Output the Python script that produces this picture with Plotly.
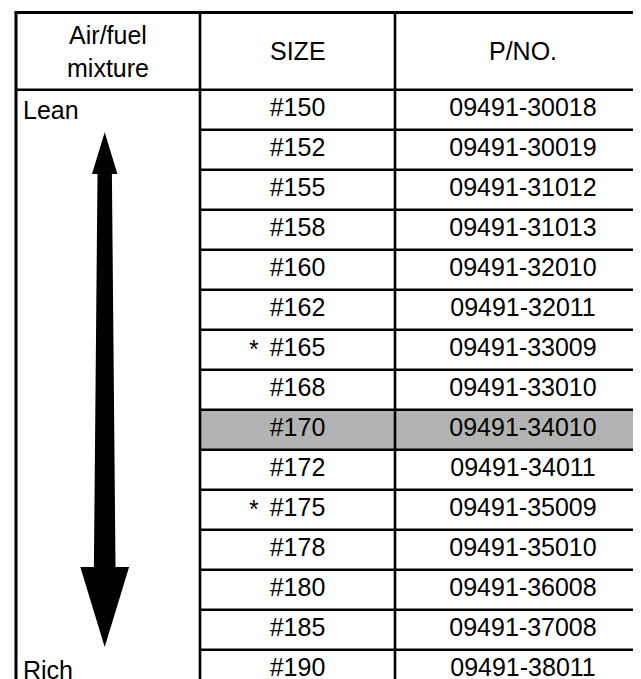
import plotly.graph_objects as go

# table content
headers = ["Air/fuel<br>mixture", "SIZE", "P/NO."]
sizes = ["#150", "#152", "#155", "#158", "#160", "#162", "#165", "#168",
         "#170", "#172", "#175", "#178", "#180", "#185", "#190"]
part_numbers = ["09491-30018", "09491-30019", "09491-31012", "09491-31013",
                "09491-32010", "09491-32011", "09491-33009", "09491-33010",
                "09491-34010", "09491-34011", "09491-35009", "09491-35010",
                "09491-36008", "09491-37008", "09491-38011"]
starred = ["#165", "#175"]
highlighted = ["#170"]
mixture_labels = {0: "Lean", len(sizes) - 1: "Rich"}

# layout of the drawing, in page pixels
W, H = 641, 679
LEFT, TOP = 8, 4.5
HEADER_H = 77.2
ROW_H = 40
COL_X = [LEFT, 192, 387, W + 10]
COL_CENTER = [100, 289.5, 515]
FONT = dict(family="Liberation Sans, Arial, Helvetica, sans-serif", size=25, color="black")
LINE_W = 2.6
GRAY = "#b3b3b3"

n = len(sizes)
body_top = TOP + HEADER_H


def row_top(i):
    return body_top + i * ROW_H


def row_mid(i):
    return row_top(i) + ROW_H / 2


fig = go.Figure()
shapes = []

# highlighted row fill
for i, s in enumerate(sizes):
    if s in highlighted:
        shapes.append(dict(type="rect", x0=COL_X[1], x1=COL_X[3], y0=row_top(i), y1=row_top(i + 1),
                           fillcolor=GRAY, line=dict(width=0), layer="below"))

line = dict(color="black", width=LINE_W)
# outer top + header bottom
shapes.append(dict(type="line", x0=LEFT - 1.5, x1=COL_X[3], y0=TOP, y1=TOP, line=dict(color="black", width=3)))
shapes.append(dict(type="line", x0=LEFT, x1=COL_X[3], y0=body_top, y1=body_top, line=line))
# row separators only in SIZE and P/NO. columns
for i in range(1, n + 1):
    shapes.append(dict(type="line", x0=COL_X[1], x1=COL_X[3], y0=row_top(i), y1=row_top(i), line=line))
# vertical lines
shapes.append(dict(type="line", x0=LEFT, x1=LEFT, y0=TOP, y1=row_top(n) + 5, line=dict(color="black", width=3)))
for x in COL_X[1:3]:
    shapes.append(dict(type="line", x0=x, x1=x, y0=TOP, y1=row_top(n) + 5, line=line))

# double-headed arrow (narrow at Lean, wide at Rich)
ax = 96.7
top_tip, top_base = row_top(1) + 2.6, row_top(2) + 4.3
bot_base, bot_tip = row_top(12) - 2.7, row_top(13) + 37.3
path = (f"M {ax} {top_tip} L {ax + 12.7} {top_base} L {ax + 7.2} {top_base} "
        f"L {ax + 10.8} {bot_base} L {ax + 24.4} {bot_base} L {ax} {bot_tip} "
        f"L {ax - 24.4} {bot_base} L {ax - 10.8} {bot_base} L {ax - 7.2} {top_base} "
        f"L {ax - 12.7} {top_base} Z")
shapes.append(dict(type="path", path=path, fillcolor="black", line=dict(width=0)))

# body text
ys = [row_mid(i) for i in range(n)]
fig.add_trace(go.Scatter(x=[COL_CENTER[1]] * n, y=ys, text=sizes, mode="text",
                         textfont=FONT, textposition="middle center", hoverinfo="skip"))
fig.add_trace(go.Scatter(x=[COL_CENTER[2]] * n, y=ys, text=part_numbers, mode="text",
                         textfont=FONT, textposition="middle center", hoverinfo="skip"))

annotations = []
for i, s in enumerate(sizes):
    if s in starred:
        annotations.append(dict(x=COL_CENTER[1] - 44, y=row_mid(i) - 1, text="*", showarrow=False,
                                font=FONT, xanchor="center", yanchor="middle"))
for i, label in mixture_labels.items():
    annotations.append(dict(x=LEFT + 5, y=row_mid(i), text=label, showarrow=False,
                            font=FONT, xanchor="left", yanchor="middle"))
for c, h in enumerate(headers):
    annotations.append(dict(x=COL_CENTER[c], y=TOP + HEADER_H / 2, text=h, showarrow=False,
                            font=FONT, xanchor="center", yanchor="middle"))

fig.update_layout(
    width=W, height=H,
    margin=dict(l=0, r=0, t=0, b=0),
    paper_bgcolor="white", plot_bgcolor="white",
    showlegend=False,
    shapes=shapes,
    annotations=annotations,
    xaxis=dict(range=[0, W], visible=False, fixedrange=True),
    yaxis=dict(range=[H, 0], visible=False, fixedrange=True),
)

fig.write_html("out.html", config=dict(displayModeBar=False))
